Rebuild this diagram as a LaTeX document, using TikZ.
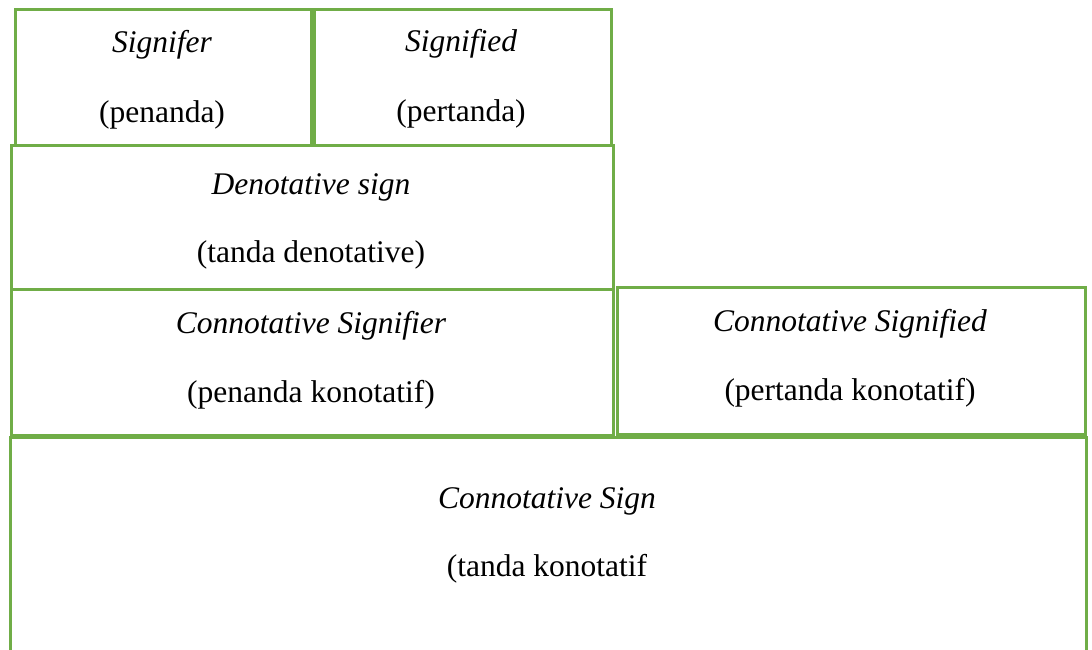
\documentclass[tikz,border=0pt]{standalone}
\usepackage{fontspec}
\setmainfont{Liberation Serif}
\usepackage{tikz}

\definecolor{boxgreen}{RGB}{112,173,71}

\tikzset{
  cell/.style={draw=boxgreen,line width=3pt,anchor=north west,inner sep=0pt},
  term/.style={anchor=base,inner sep=0pt,font=\fontsize{31.5}{38}\selectfont\itshape},
  gloss/.style={anchor=base,inner sep=0pt,font=\fontsize{31.5}{38}\selectfont}
}

\begin{document}
\begin{tikzpicture}[x=1pt,y=-1pt]
        \useasboundingbox (0,0) rectangle (1092,650);
        \clip (0,0) rectangle (1092,650);
        % first row
        \node[cell,minimum width=296pt,minimum height=136pt] (sr) at (14,8) {};
        \node[cell,minimum width=297pt,minimum height=136pt] (sd) at (313,8) {};
        \node[term] (srt) at (162,53) {Signifer};
        \node[gloss] (srg) at (162,123) {(penanda)};
        \node[term] (sdt) at (461,52) {Signified};
        \node[gloss] (sdg) at (461,122) {(pertanda)};
        % denotative sign
        \node[cell,minimum width=602pt,minimum height=144pt] (ds) at (10,144) {};
        \node[term] (dst) at (311,194) {Denotative sign};
        \node[gloss] (dsg) at (311,262) {(tanda denotative)};
        % connotative row
        \node[cell,minimum width=602pt,minimum height=146pt] (cr) at (10,288) {};
        \node[cell,minimum width=468pt,minimum height=147pt] (cd) at (616,286) {};
        \node[term] (crt) at (311,333) {Connotative Signifier};
        \node[gloss] (crg) at (311,402) {(penanda konotatif)};
        \node[term] (cdt) at (850,331) {Connotative Signified};
        \node[gloss] (cdg) at (850,400) {(pertanda konotatif)};
        % connotative sign (runs off the page)
        \node[cell,minimum width=1076pt,minimum height=260pt] (cs) at (9,436) {};
        \node[term] (cst) at (547,508) {Connotative Sign};
        \node[gloss] (csg) at (547,576) {(tanda konotatif};
      \end{tikzpicture}
\end{document}
